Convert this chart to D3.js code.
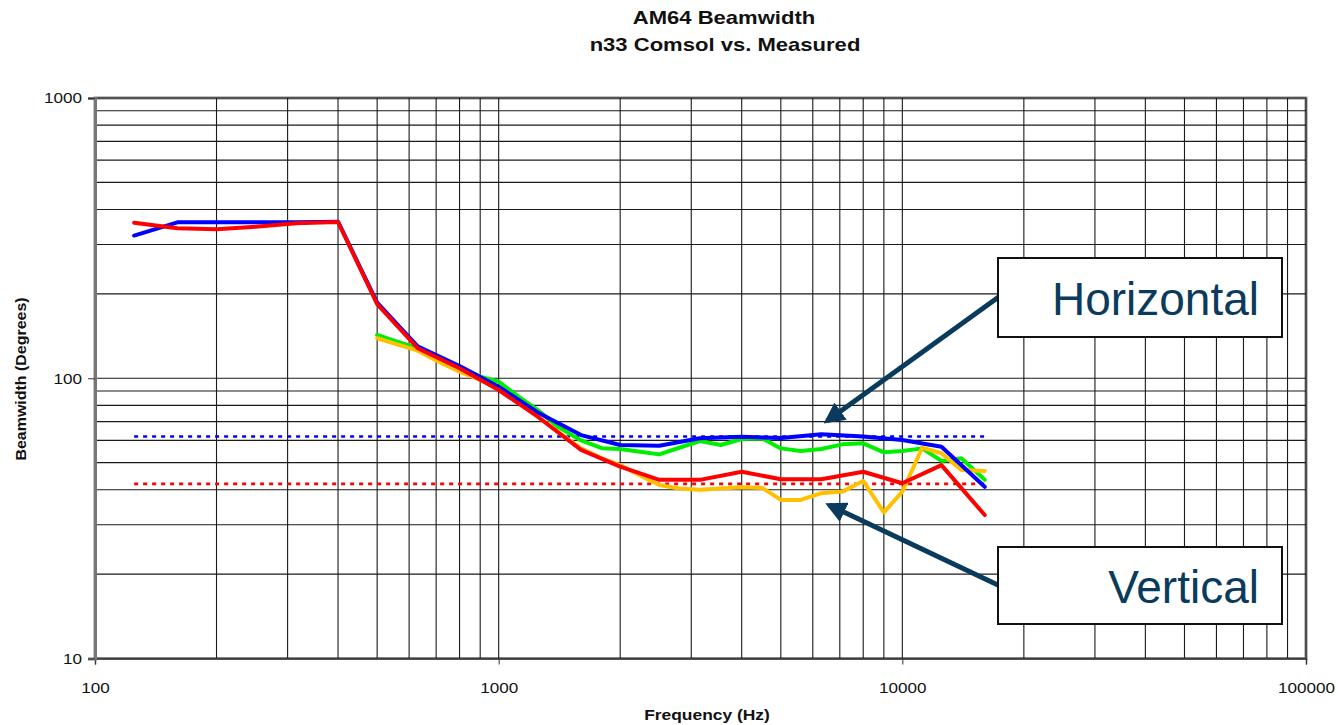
<!DOCTYPE html>
<html>
<head>
<meta charset="utf-8">
<script src="https://cdn.jsdelivr.net/npm/d3@7/dist/d3.min.js"></script>
<style>
  html, body { margin: 0; padding: 0; background: #fff; }
  svg { display: block; font-family: "Liberation Sans", Arial, sans-serif; }
</style>
</head>
<body>
<svg id="chart" width="1338" height="725"></svg>
<script>
// Simulated (Comsol) beamwidth, 1/3-octave bands
const freqComsol = [125, 160, 200, 250, 315, 400, 500, 630, 800, 1000, 1250, 1600,
                    2000, 2500, 3150, 4000, 5000, 6300, 8000, 10000, 12500, 16000];
const horizComsol = [323, 360, 360, 360, 360, 362, 186, 130, 110.6, 93.3, 75.5, 62.7,
                     57.8, 57.4, 61.1, 61.8, 61.2, 63.1, 62, 60.2, 57, 41];
const vertComsol = [359, 343, 340, 347, 357, 361, 184, 128, 108.5, 90.8, 72.9, 55.5,
                    48.4, 43.4, 43.4, 46.4, 43.6, 43.6, 46.4, 42.2, 49, 32.5];

// Measured beamwidth, 1/6-octave bands
const freqMeasured = [500, 560, 630, 710, 800, 900, 1000, 1120, 1250, 1400, 1600, 1800,
                      2000, 2240, 2500, 2800, 3150, 3550, 4000, 4500, 5000, 5600, 6300,
                      7100, 8000, 9000, 10000, 11200, 12500, 14000, 16000];
const horizMeasured = [142.7, 135, 128, 119, 109.4, 101.3, 97.2, 86, 77, 67.2, 60, 56.3,
                       55.9, 54.7, 53.5, 56.5, 59.7, 57.8, 60.7, 61, 56.2, 55, 55.9,
                       58.1, 58.6, 54.4, 55, 56.2, 50.7, 51.8, 43.4];
const vertMeasured = [138.9, 132, 125.4, 114.6, 105.5, 98.6, 92.1, 81.8, 72.9, 64.5, 56.2, 51.8,
                      49, 45, 41.6, 40.4, 40, 40.4, 40.8, 40.6, 36.8, 36.8, 38.9,
                      39.4, 43, 33.2, 39.4, 56.5, 54, 47.1, 46.7];

// Target beamwidth reference lines
const targetFreq = [125, 16000];
const targetHoriz = [62, 62];
const targetVert = [42, 42];

// Axis tick labels
const xTickValues = [100, 1000, 10000, 100000];
const yTickValues = [10, 100, 1000];

const svg = d3.select("#chart");
const plotLeft = 95, plotRight = 1306, plotTop = 98, plotBottom = 658.5;

const x = d3.scaleLog().domain([100, 100000]).range([plotLeft, plotRight]);
const y = d3.scaleLog().domain([10, 1000]).range([plotBottom, plotTop]);

// Horizontal text stretch used throughout the chart's labels
function stretch(sel, k) {
  sel.each(function () {
    const len = this.getComputedTextLength();
    d3.select(this).attr("textLength", len * k).attr("lengthAdjust", "spacingAndGlyphs");
  });
}

// Frame
svg.append("rect")
  .attr("x", plotLeft).attr("y", plotTop)
  .attr("width", plotRight - plotLeft).attr("height", plotBottom - plotTop)
  .attr("fill", "#fff").attr("stroke", "#8a8a8a").attr("stroke-width", 3);

// Grid lines on every log subdivision
const grid = svg.append("g").attr("stroke", "#1a1a1a").attr("stroke-width", 1.1);
grid.selectAll("line.vx")
  .data(x.ticks())
  .join("line")
  .attr("class", "vx")
  .attr("x1", d => x(d)).attr("x2", d => x(d))
  .attr("y1", plotTop).attr("y2", plotBottom);
grid.selectAll("line.hy")
  .data(y.ticks())
  .join("line")
  .attr("class", "hy")
  .attr("x1", plotLeft).attr("x2", plotRight)
  .attr("y1", d => y(d)).attr("y2", d => y(d));

// Axes (ticks + labels)
const xAxis = svg.append("g")
  .attr("transform", `translate(0,${plotBottom})`)
  .call(d3.axisBottom(x).tickValues(xTickValues).tickSize(6).tickPadding(18)
        .tickFormat(d3.format("d")));
xAxis.select(".domain").attr("stroke", "#444").attr("stroke-width", 1.5);
xAxis.selectAll(".tick line").attr("stroke", "#333");
xAxis.selectAll("text").attr("font-size", 15).attr("fill", "#111")
  .attr("font-family", "'Liberation Sans', Arial, sans-serif")
  .call(stretch, 1.14);

const yAxis = svg.append("g")
  .attr("transform", `translate(${plotLeft},0)`)
  .call(d3.axisLeft(y).tickValues(yTickValues).tickSize(7).tickPadding(6)
        .tickFormat(d3.format("d")));
yAxis.select(".domain").attr("stroke", "#777").attr("stroke-width", 3);
yAxis.selectAll(".tick line").attr("stroke", "#333");
yAxis.selectAll("text").attr("font-size", 15).attr("fill", "#111")
  .attr("font-family", "'Liberation Sans', Arial, sans-serif")
  .call(stretch, 1.14);

// Target reference lines (dotted)
const line = d3.line().x(d => x(d[0])).y(d => y(d[1]));
const dotted = [
  { f: targetFreq, v: targetHoriz, color: "#0000ff" },
  { f: targetFreq, v: targetVert, color: "#ff0000" }
];
svg.append("g").selectAll("path")
  .data(dotted)
  .join("path")
  .attr("d", d => line(d.f.map((f, i) => [f, d.v[i]])))
  .attr("fill", "none")
  .attr("stroke", d => d.color)
  .attr("stroke-width", 2.6)
  .attr("stroke-dasharray", "4,5");

// Data series
const series = [
  { f: freqMeasured, v: horizMeasured, color: "#00ee00" },
  { f: freqMeasured, v: vertMeasured, color: "#ffc000" },
  { f: freqComsol, v: horizComsol, color: "#0000ff" },
  { f: freqComsol, v: vertComsol, color: "#ff0000" }
];
svg.append("g").selectAll("path")
  .data(series)
  .join("path")
  .attr("d", d => line(d.f.map((f, i) => [f, d.v[i]])))
  .attr("fill", "none")
  .attr("stroke", d => d.color)
  .attr("stroke-width", 4)
  .attr("stroke-linejoin", "round")
  .attr("stroke-linecap", "round");

// Titles
svg.append("text")
  .attr("x", 724).attr("y", 24).attr("text-anchor", "middle")
  .attr("font-size", 19).attr("font-weight", "bold").attr("fill", "#111")
  .text("AM64 Beamwidth").call(stretch, 1.16);
svg.append("text")
  .attr("x", 725).attr("y", 51).attr("text-anchor", "middle")
  .attr("font-size", 19).attr("font-weight", "bold").attr("fill", "#111")
  .text("n33 Comsol vs. Measured").call(stretch, 1.16);
svg.append("text")
  .attr("x", 707).attr("y", 720).attr("text-anchor", "middle")
  .attr("font-size", 15).attr("font-weight", "bold").attr("fill", "#111")
  .text("Frequency (Hz)").call(stretch, 1.16);
svg.append("text")
  .attr("transform", "translate(26,379) rotate(-90)")
  .attr("text-anchor", "middle")
  .attr("font-size", 14).attr("font-weight", "bold").attr("fill", "#111")
  .text("Beamwidth (Degrees)").call(stretch, 1.14);

// Callouts
const calloutColor = "#0b3b5c";
const defs = svg.append("defs");
defs.append("marker")
  .attr("id", "head").attr("viewBox", "0 0 10 10")
  .attr("refX", 8).attr("refY", 5)
  .attr("markerWidth", 4.2).attr("markerHeight", 4.2)
  .attr("orient", "auto-start-reverse")
  .append("path").attr("d", "M0,0 L10,5 L0,10 Z").attr("fill", calloutColor);

const callouts = [
  { label: "Horizontal", box: [998, 258, 284, 79], from: [1000, 296], to: [827, 421], base: 315 },
  { label: "Vertical", box: [998, 547, 284, 77], from: [1000, 586], to: [829, 505], base: 603 }
];
callouts.forEach(c => {
  svg.append("line")
    .attr("x1", c.from[0]).attr("y1", c.from[1])
    .attr("x2", c.to[0]).attr("y2", c.to[1])
    .attr("stroke", calloutColor).attr("stroke-width", 5)
    .attr("marker-end", "url(#head)");
  svg.append("rect")
    .attr("x", c.box[0]).attr("y", c.box[1])
    .attr("width", c.box[2]).attr("height", c.box[3])
    .attr("fill", "#fff").attr("stroke", "#111").attr("stroke-width", 2);
  svg.append("text")
    .attr("x", 1259).attr("y", c.base).attr("text-anchor", "end")
    .attr("font-size", 46).attr("fill", calloutColor)
    .text(c.label);
});
</script>
</body>
</html>
